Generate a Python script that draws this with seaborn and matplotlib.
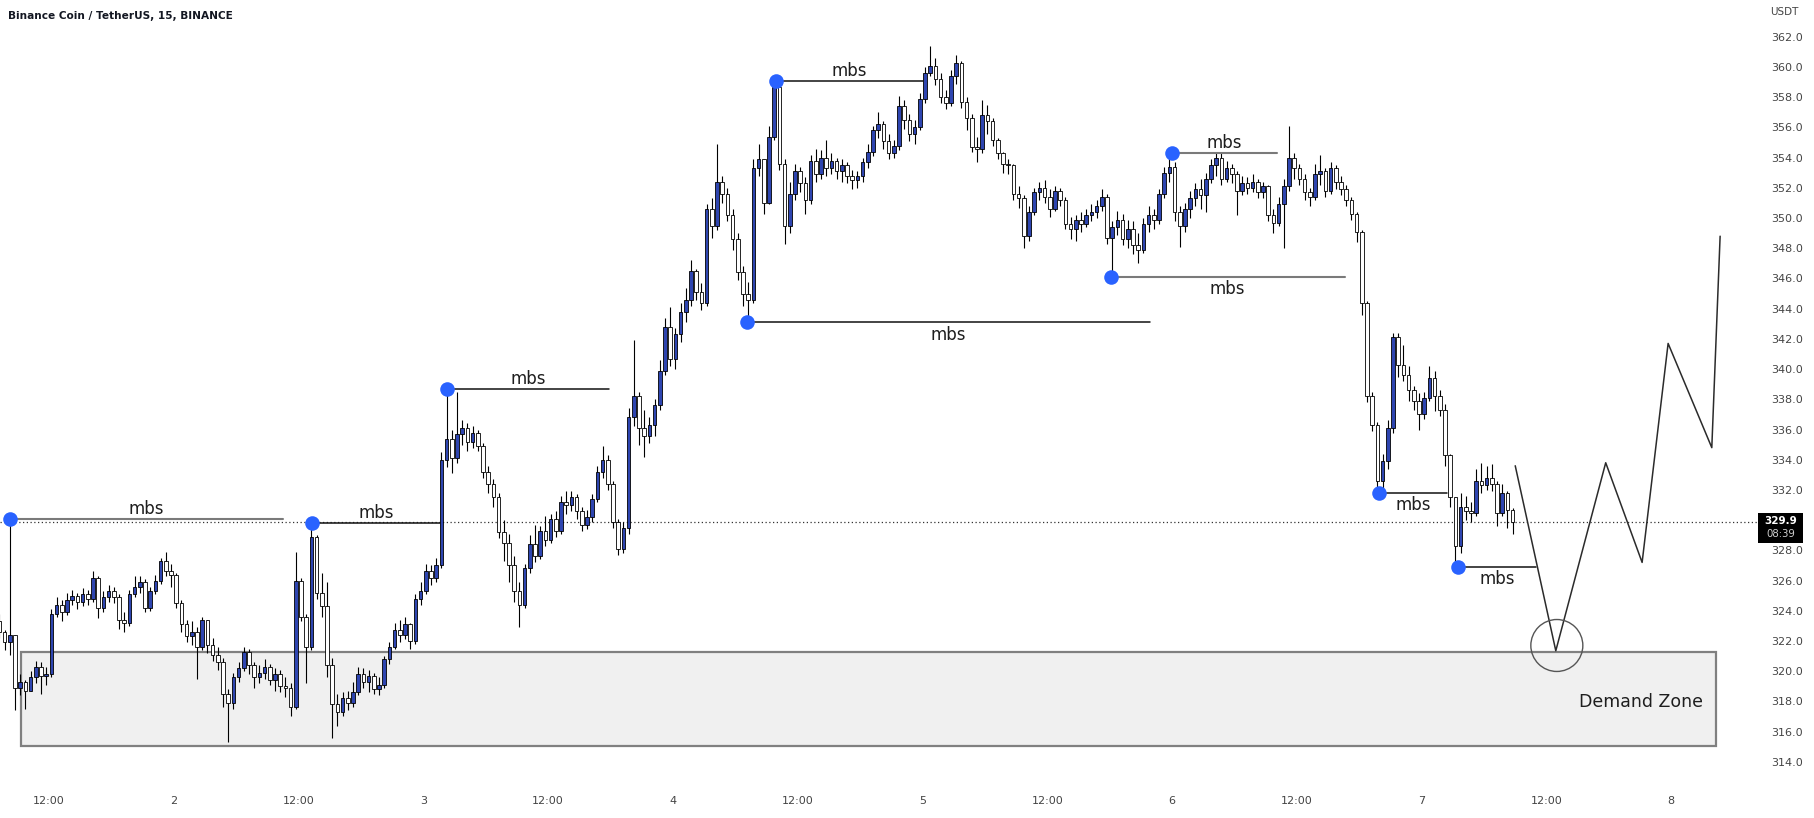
import numpy as np
import pandas as pd
import matplotlib
matplotlib.use("Agg")
import matplotlib.pyplot as plt
from matplotlib.patches import Rectangle, Ellipse
import seaborn as sns

# ============================
# DATOS (velas de 30 min, horas desde el dia 1 00:00)
# ============================

first_open = 323.3
closes = [
    322.6, 321.9, 322.4, 318.9, 319.3, 318.7, 319.6, 320.3, 319.7, 319.8,
    323.8, 324.4, 323.9, 324.7, 325.0, 324.6, 325.1, 324.8, 326.2, 324.2,
    324.9, 325.3, 324.9, 323.4, 323.2, 325.1, 325.6, 325.9, 324.2, 325.3,
    326.0, 327.3, 326.6, 326.4, 324.5, 323.1, 322.3, 322.6, 321.6, 323.4,
    321.7, 321.1, 320.6, 318.5, 317.9, 319.6, 320.2, 321.3, 320.4, 319.6,
    319.9, 320.3, 319.4, 319.8, 319.0, 318.9, 317.6, 326.0, 323.6, 321.6,
    328.9, 325.2, 324.3, 320.4, 317.8, 317.3, 318.2, 317.9, 318.6, 319.8,
    319.3, 319.7, 318.8, 319.1, 320.8, 321.6, 322.7, 322.4, 323.1, 322.0,
    324.8, 325.3, 326.6, 326.2, 327.0, 334.0, 335.4, 334.1, 335.7, 336.1,
    335.2, 335.8, 334.9, 333.2, 332.4, 331.5, 329.2, 328.5, 327.0, 325.3,
    324.4, 326.8, 328.4, 327.6, 329.3, 328.7, 330.1, 329.3, 331.2, 331.0,
    331.5, 330.6, 329.7, 330.2, 331.4, 333.2, 334.0, 332.4, 329.9, 328.1,
    329.5, 336.8, 338.2, 336.1, 335.6, 336.3, 337.6, 339.9, 342.8, 340.7,
    342.3, 343.8, 344.6, 346.5, 345.1, 344.4, 350.6, 349.5, 352.4, 351.6,
    350.2, 348.6, 346.4, 345.0, 344.6, 353.3, 353.9, 351.0, 355.4, 358.7,
    353.6, 349.5, 351.6, 353.1, 352.3, 351.2, 353.8, 352.9, 354.0, 353.3,
    353.8, 353.1, 353.5, 352.8, 352.5, 352.8, 353.7, 354.4, 355.8, 356.2,
    355.1, 354.3, 354.8, 357.4, 356.5, 355.6, 356.0, 357.9, 359.6, 360.1,
    359.2, 358.0, 357.6, 359.4, 360.3, 357.7, 356.6, 354.7, 354.6, 356.8,
    356.4, 355.2, 354.3, 353.6, 353.5, 351.6, 351.3, 348.8, 350.4, 351.7,
    352.0, 351.4, 350.6, 351.8, 351.2, 349.6, 349.3, 349.9, 349.6, 350.2,
    350.4, 350.8, 351.4, 348.7, 349.4, 349.9, 348.6, 349.3, 348.2, 347.9,
    349.6, 350.2, 349.9, 351.6, 353.0, 353.4, 350.4, 349.5, 350.6, 351.3,
    351.9, 351.5, 352.6, 353.5, 354.0, 352.6, 353.3, 352.9, 351.8, 352.3,
    352.0, 352.4, 351.7, 352.1, 350.2, 349.7, 350.9, 352.1, 354.0, 353.3,
    352.6, 351.7, 351.4, 352.9, 353.1, 351.8, 353.3, 352.4, 351.9, 351.2,
    350.3, 349.1, 344.4, 338.2, 336.3, 332.6, 333.9, 336.1, 342.1, 340.3,
    339.6, 338.6, 337.9, 337.0, 338.1, 339.4, 338.2, 337.3, 334.3, 331.5,
    328.3, 330.9, 330.6, 330.5, 332.6, 332.3, 332.8, 332.4, 330.5, 331.8,
    330.7, 329.9,
]
highs = [
    323.8, 322.7, 329.9, 322.1, 319.8, 319.4, 320.0, 320.7, 320.6, 320.3,
    324.1, 324.9, 324.7, 325.2, 325.4, 325.2, 325.5, 325.4, 326.6, 326.3,
    325.3, 325.7, 325.6, 325.1, 323.9, 325.4, 326.3, 326.3, 326.1, 325.6,
    326.4, 327.5, 327.9, 327.1, 326.5, 324.7, 323.4, 323.3, 322.9, 323.6,
    323.4, 322.2, 321.6, 320.9, 318.8, 319.9, 320.6, 321.6, 321.5, 320.6,
    320.4, 320.8, 320.5, 320.2, 320.1, 319.6, 319.2, 327.9, 326.2, 323.8,
    329.8, 329.0, 326.5, 325.9, 320.9, 318.5, 318.6, 318.7, 319.3, 320.3,
    320.2, 320.1, 319.9, 319.6, 321.0, 321.9, 323.2, 323.4, 323.6, 323.2,
    325.1, 325.9, 327.1, 327.0, 327.5, 334.5, 338.7, 336.0, 338.5, 336.6,
    336.4, 336.2, 336.0, 335.1, 333.6, 332.7, 331.8, 330.0, 329.1, 327.6,
    325.9, 327.1, 329.0, 329.7, 329.6, 330.3, 330.4, 330.6, 331.6, 331.9,
    331.9, 331.7, 330.9, 330.7, 331.7, 333.6, 334.9, 334.3, 332.6, 330.1,
    329.9, 337.4, 341.9, 338.5, 337.3, 336.8, 338.0, 340.6, 343.4, 344.1,
    342.7, 344.4, 345.4, 347.2, 346.6, 345.7, 350.9, 351.3, 354.9, 352.8,
    352.0, 350.6, 349.0, 346.8, 345.8, 353.9, 354.9, 353.8, 356.1, 359.1,
    358.4, 353.9, 352.4, 353.6, 353.4, 352.7, 354.2, 354.6, 354.5, 355.2,
    354.3, 354.0, 353.9, 353.7, 353.2, 353.1, 354.0, 354.9, 356.1, 357.0,
    356.4, 355.6, 355.2, 358.1, 357.8, 356.9, 356.5, 358.3, 360.0, 361.4,
    360.6, 359.6, 358.5, 359.8, 360.8, 360.4, 358.0, 356.9, 355.4, 357.8,
    357.5, 356.6, 355.3, 354.4, 353.9, 353.6, 352.1, 351.5, 350.8, 352.0,
    352.4, 352.5, 351.9, 352.1, 352.0, 351.4, 350.1, 350.2, 350.4, 350.6,
    350.9, 351.2, 351.9, 351.6, 349.8, 350.5, 350.3, 349.9, 349.8, 349.0,
    350.0, 350.8, 350.6, 351.9, 353.4, 354.3, 353.7, 350.8, 351.0, 351.8,
    352.3, 352.6, 353.0, 353.9, 354.3, 354.3, 353.8, 353.6, 353.1, 352.8,
    352.7, 352.9, 352.6, 352.4, 352.2, 350.6, 351.4, 352.6, 356.1, 354.3,
    353.6, 352.9, 352.0, 353.6, 354.2, 353.3, 353.7, 353.5, 352.8, 352.2,
    351.4, 350.4, 349.2, 344.5, 338.5, 336.5, 334.4, 336.6, 342.4, 342.4,
    341.6, 340.2, 338.9, 338.4, 338.5, 340.2, 339.9, 338.6, 337.7, 334.4,
    331.2, 331.8, 331.6, 331.2, 333.4, 333.8, 333.6, 333.7, 332.6, 332.4,
    331.9, 330.8,
]
lows = [
    322.2, 321.4, 321.1, 317.4, 318.4, 317.5, 318.9, 319.2, 318.5, 319.1,
    319.6, 323.6, 323.3, 323.7, 324.4, 324.1, 324.3, 324.4, 324.6, 323.5,
    323.9, 324.6, 324.5, 322.8, 322.6, 323.0, 324.9, 325.2, 323.9, 324.0,
    325.1, 325.8, 326.3, 325.6, 324.2, 322.6, 321.9, 321.7, 319.5, 321.4,
    321.2, 320.7, 320.1, 317.6, 315.3, 317.5, 319.3, 320.0, 319.8, 318.9,
    319.2, 319.5, 319.1, 318.7, 318.6, 318.3, 317.0, 317.5, 323.3, 319.2,
    321.4, 324.8, 323.6, 319.6, 315.6, 316.4, 317.0, 317.4, 317.6, 318.4,
    318.9, 318.6, 318.5, 318.4, 318.9, 320.5, 321.5, 321.9, 322.1, 321.5,
    321.8, 324.4, 325.1, 325.7, 325.9, 326.8, 333.5, 333.1, 333.8, 335.0,
    334.6, 334.8, 334.6, 332.8, 331.8, 330.9, 328.8, 327.3, 325.9, 324.6,
    322.9, 324.2, 326.5, 327.2, 327.4, 328.3, 328.5, 328.9, 329.1, 330.4,
    330.6, 330.1, 329.3, 329.4, 329.9, 331.2, 332.8, 332.0, 329.5, 327.7,
    327.8, 329.1, 336.2, 335.0, 334.2, 335.1, 335.6, 337.3, 339.6, 340.2,
    340.0, 341.8, 343.1, 344.2, 344.6, 343.9, 344.2, 348.7, 349.2, 351.0,
    349.8, 347.9, 345.9, 344.2, 343.1, 344.4, 352.8, 350.3, 350.9, 355.2,
    353.2, 348.3, 349.0, 351.2, 351.7, 350.3, 350.9, 352.4, 352.6, 352.8,
    352.9, 352.6, 352.4, 352.3, 351.9, 352.0, 352.4, 353.3, 354.1, 355.3,
    354.6, 353.9, 354.0, 354.5, 355.9, 355.1, 354.9, 355.8, 357.6, 359.4,
    358.8, 357.6, 357.2, 357.4, 358.9, 357.3, 355.8, 354.4, 353.7, 354.3,
    355.6, 354.8, 353.9, 353.0, 352.9, 351.2, 350.7, 348.0, 348.5, 350.2,
    351.2, 351.0, 350.1, 350.5, 350.8, 349.3, 348.6, 348.5, 349.1, 349.4,
    349.8, 350.0, 350.5, 348.3, 346.1, 348.9, 348.2, 348.0, 347.6, 347.0,
    347.7, 349.1, 349.3, 349.6, 351.3, 352.4, 349.8, 348.1, 349.1, 350.0,
    350.8, 350.6, 350.4, 352.3, 352.8, 352.2, 352.4, 352.3, 350.2, 351.5,
    351.6, 351.7, 351.3, 351.3, 349.8, 349.0, 349.5, 348.0, 351.8, 352.6,
    352.2, 351.2, 350.8, 351.2, 352.2, 351.4, 351.6, 351.9, 351.5, 350.8,
    349.9, 348.4, 343.6, 337.8, 335.9, 331.8, 331.9, 333.4, 335.8, 339.5,
    339.2, 337.9, 337.3, 336.0, 336.7, 337.9, 337.2, 336.9, 333.6, 330.9,
    326.9, 327.8, 330.0, 329.9, 330.3, 331.8, 332.0, 331.9, 329.6, 330.3,
    329.5, 329.1,
]
first_candle_hour = 7.25
candle_step = 0.5
last_price = 329.9

# niveles "mbs": punto inicial (hora, precio), fin de la linea, etiqueta arriba/abajo
mbs_start = [8.3, 37.3, 50.3, 79.1, 81.9, 114.1, 120.0, 139.9, 147.5]
mbs_end = [34.5, 49.6, 65.9, 117.9, 96.1, 136.6, 130.1, 146.4, 155.0]
mbs_level = [330.1, 329.8, 338.7, 343.1, 359.1, 346.1, 354.3, 331.8, 326.9]
mbs_above = [True, True, True, False, True, False, True, False, False]
mbs_gray = [True, False, False, False, False, True, True, False, False]

# proyeccion en zigzag
proj_hour = [153.0, 156.9, 161.7, 165.2, 167.7, 171.9, 172.7]
proj_price = [333.6, 321.35, 333.8, 327.2, 341.7, 334.8, 348.8]

demand_zone = (9.3, 172.3, 315.07, 321.3)  # x0, x1, y0, y1
demand_label = (165.1, 317.95)

tick_hours = [12, 24, 36, 48, 60, 72, 84, 96, 108, 120, 132, 144, 156, 168]
tick_labels = ["12:00", "2", "12:00", "3", "12:00", "4", "12:00", "5",
               "12:00", "6", "12:00", "7", "12:00", "8"]
price_ticks = list(range(314, 364, 2))
hidden_price_tick = 330  # tapado por la etiqueta del precio actual

# ============================
# FIGURA
# ============================

BLUE_BODY = "#2e45b0"
DOT_BLUE = "#2962ff"

sns.set_theme(style="white")
plt.rcParams["font.family"] = ["DejaVu Sans"]

fig = plt.figure(figsize=(18.14, 8.18), dpi=100)
ax = fig.add_axes([0.0, 0.0403, 0.9686, 0.9597])
ax.set_facecolor("white")

opens = [first_open] + closes[:-1]
df = pd.DataFrame({
    "t": first_candle_hour + candle_step * np.arange(len(closes)),
    "open": opens, "high": highs, "low": lows, "close": closes,
})
df["high"] = df[["high", "open", "close"]].max(axis=1)
df["low"] = df[["low", "open", "close"]].min(axis=1)
df["up"] = df["close"] >= df["open"]

# zona de demanda
x0, x1, y0, y1 = demand_zone
ax.add_patch(Rectangle((x0, y0), x1 - x0, y1 - y0, facecolor="#f0f0f0",
                       edgecolor="#808080", linewidth=1.6, zorder=1))
ax.text(demand_label[0], demand_label[1], "Demand Zone", fontsize=12.5,
        color="#1e1e1e", ha="center", va="center", zorder=6)

# precio actual
ax.axhline(last_price, color="#333333", linestyle=(0, (1, 2)), linewidth=0.9, zorder=1.5)

# velas
ax.vlines(df["t"], df["low"], df["high"], color="black", linewidth=0.8, zorder=2)
body = (df["close"] - df["open"]).abs().clip(lower=0.08)
ax.bar(df["t"], body, bottom=df[["open", "close"]].min(axis=1), width=0.34,
       color=np.where(df["up"], BLUE_BODY, "white"), edgecolor="black",
       linewidth=0.6, zorder=3)

# lineas mbs
for xs, xe, lv, above, gray in zip(mbs_start, mbs_end, mbs_level, mbs_above, mbs_gray):
    ax.plot([xs, xe], [lv, lv], color="#7a7a7a" if gray else "#111111",
            linewidth=1.5 if gray else 1.1, zorder=4)
    ax.annotate("mbs", ((xs + xe) / 2, lv), xytext=(0, 7 if above else -9),
                textcoords="offset points", ha="center", va="center",
                fontsize=12, color="#1e1e1e", zorder=6)
dots = pd.DataFrame({"t": mbs_start, "p": mbs_level})
sns.scatterplot(data=dots, x="t", y="p", ax=ax, color=DOT_BLUE, s=110,
                edgecolor=DOT_BLUE, linewidth=0, zorder=5)

# proyeccion
proj = pd.DataFrame({"t": proj_hour, "p": proj_price})
sns.lineplot(data=proj, x="t", y="p", ax=ax, sort=False, estimator=None,
             color="#2b2b2b", linewidth=1.1, zorder=4)
ax.add_patch(Ellipse((157.0, 321.7), 5.0, 3.44, facecolor="none",
                     edgecolor="#555555", linewidth=1.0, zorder=4))

# ejes
ax.set_xlim(7.308, 176.25)
ax.set_ylim(312.46, 364.44)
ax.set_xlabel("")
ax.set_ylabel("")
for s in ax.spines.values():
    s.set_visible(False)
ax.set_xticks(tick_hours)
ax.set_xticklabels(tick_labels)
ax.set_yticks(price_ticks)
ax.set_yticklabels(["" if v == hidden_price_tick else f"{v:.1f}" for v in price_ticks])
ax.yaxis.tick_right()
ax.tick_params(axis="y", length=0, pad=10, labelsize=8, labelcolor="#444444")
ax.tick_params(axis="x", length=0, pad=8, labelsize=8, labelcolor="#444444")
ax.grid(False)

# textos fijos
fig.text(0.0044, 0.980, "Binance Coin / TetherUS, 15, BINANCE", fontsize=7.6,
         fontweight="bold", color="#131722", ha="left", va="center")
fig.text(0.9835, 0.985, "USDT", fontsize=7.5, color="#444444", ha="center", va="center")

# etiqueta de precio
fig.add_artist(Rectangle((0.9691, 0.3365), 0.0248, 0.0366, transform=fig.transFigure,
                         facecolor="black", edgecolor="none", zorder=10))
fig.text(0.9815, 0.3632, f"{last_price:.1f}", fontsize=7.5, fontweight="bold",
         color="white", ha="center", va="center", zorder=11)
fig.text(0.9815, 0.3468, "08:39", fontsize=7.3, color="#d0d0d0",
         ha="center", va="center", zorder=11)

fig.savefig("out.png", dpi=100, facecolor="white")
